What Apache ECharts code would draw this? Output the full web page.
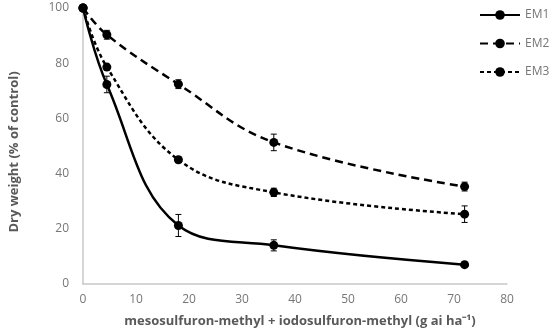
<!DOCTYPE html>
<html>
<head>
<meta charset="utf-8">
<script src="https://cdn.jsdelivr.net/npm/echarts@6/dist/echarts.min.js"></script>
<style>html,body{margin:0;padding:0;background:#fff}#c{width:550px;height:335px}</style>
</head>
<body>
<div id="c"></div>
<script>
var doses = [0, 4.5, 18, 36, 72];
var em1 = [100, 72.3, 21.2, 14.0, 7.0];
var em2 = [100, 90.3, 72.4, 51.3, 35.3];
var em3 = [100, 78.6, 45.0, 33.2, 25.3];
var em1Err = [0, 3.0, 4.0, 2.0, 0.5];
var em2Err = [0, 1.6, 1.6, 3.0, 1.6];
var em3Err = [0, 1.0, 1.0, 1.5, 3.0];
var xTicks = [0, 10, 20, 30, 40, 50, 60, 70, 80];
var yTicks = [0, 20, 40, 60, 80, 100];

function pts(v) { return doses.map(function (d, i) { return [d, v[i]]; }); }
function errPts(v, e) { return doses.map(function (d, i) { return [d, v[i] - e[i], v[i] + e[i]]; }); }

function errSeries(v, e) {
  return {
    type: 'custom',
    z: 1,
    silent: true,
    data: errPts(v, e),
    renderItem: function (params, api) {
      var x = api.value(0);
      var lo = api.coord([x, api.value(1)]);
      var hi = api.coord([x, api.value(2)]);
      var w = 3;
      var style = { stroke: '#000', lineWidth: 1 };
      return {
        type: 'group',
        children: [
          { type: 'line', shape: { x1: lo[0], y1: lo[1], x2: hi[0], y2: hi[1] }, style: style },
          { type: 'line', shape: { x1: lo[0] - w, y1: lo[1], x2: lo[0] + w, y2: lo[1] }, style: style },
          { type: 'line', shape: { x1: hi[0] - w, y1: hi[1], x2: hi[0] + w, y2: hi[1] }, style: style }
        ]
      };
    }
  };
}

function lineSeries(name, v, dash) {
  return {
    name: name,
    type: 'line',
    data: pts(v),
    smooth: 0.4,
    symbol: 'circle',
    symbolSize: 9,
    z: 3,
    itemStyle: { color: '#000' },
    lineStyle: { color: '#000', width: 2.5, type: dash },
    animation: false
  };
}

var chart = echarts.init(document.getElementById('c'), null, { renderer: 'canvas' });
chart.setOption({
  animation: false,
  backgroundColor: '#fff',
  grid: { left: 83, right: 43, top: 8, bottom: 51 },
  legend: {
    data: ['EM1', 'EM2', 'EM3'],
    orient: 'vertical',
    left: 474,
    top: 4,
    itemWidth: 40,
    itemHeight: 12,
    itemGap: 16.5,
    textStyle: { color: '#767676', fontSize: 12, fontFamily: 'Open Sans' }
  },
  xAxis: {
    type: 'value',
    min: 0, max: 80, interval: 10,
    name: 'mesosulfuron-methyl + iodosulfuron-methyl (g ai ha⁻¹)',
    nameLocation: 'middle',
    nameGap: 31,
    nameTextStyle: { color: '#595959', fontSize: 13, fontWeight: 'bold', fontFamily: 'Open Sans', padding: [0, 0, 0, 10] },
    axisLine: { lineStyle: { color: '#c8c8c8', width: 1.5 } },
    axisTick: { show: false },
    splitLine: { show: false },
    axisLabel: { color: '#767676', fontSize: 12, fontFamily: 'Open Sans', margin: 10,
      formatter: function (v) { return xTicks.indexOf(v) >= 0 ? String(v) : ''; } }
  },
  yAxis: {
    type: 'value',
    min: 0, max: 100, interval: 20,
    name: 'Dry weight (% of control)',
    nameLocation: 'middle',
    nameGap: 62,
    nameTextStyle: { color: '#595959', fontSize: 13, fontWeight: 'bold', fontFamily: 'Open Sans', padding: [0, 12, 0, 0] },
    axisLine: { show: true, lineStyle: { color: '#c8c8c8', width: 1.5 } },
    axisTick: { show: false },
    splitLine: { show: false },
    axisLabel: { color: '#767676', fontSize: 12, fontFamily: 'Open Sans', margin: 14,
      formatter: function (v) { return yTicks.indexOf(v) >= 0 ? String(v) : ''; } }
  },
  series: [
    lineSeries('EM1', em1, 'solid'),
    lineSeries('EM2', em2, [8, 5]),
    lineSeries('EM3', em3, [4, 3]),
    errSeries(em1, em1Err),
    errSeries(em2, em2Err),
    errSeries(em3, em3Err)
  ]
});
</script>
</body>
</html>
